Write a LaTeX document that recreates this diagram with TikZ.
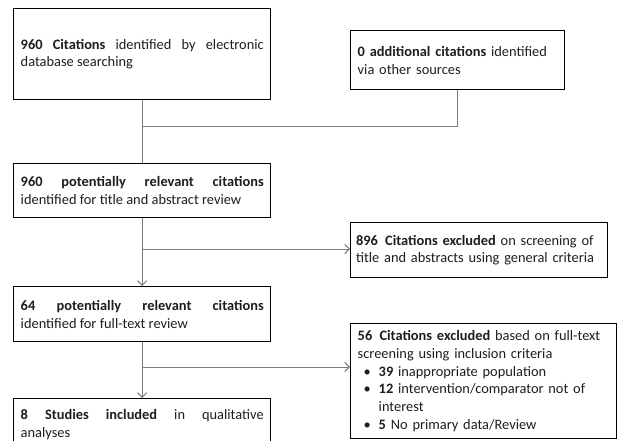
\documentclass[tikz,border=0pt]{standalone}
\usepackage{fontspec}
\setmainfont{Carlito}
\usetikzlibrary{arrows.meta}
\definecolor{txt}{HTML}{1E1E1E}
\definecolor{conn}{HTML}{7A7A7A}
\tikzset{
  box/.style={draw=black, line width=1.1pt, anchor=north west, inner xsep=5.25pt, inner ysep=2pt,
    font=\fontsize{10.8pt}{13.4pt}\selectfont, text=txt},
  jbox/.style={box, align=justify},
  lbox/.style={box, align=left},
  conline/.style={draw=conn, line width=0.7pt},
  conarrow/.style={conline, -{Straight Barb[length=3.5pt,width=7pt]}},
}
\begin{document}
\begin{tikzpicture}[x=0.75pt,y=-0.75pt]
\useasboundingbox (0,0) rectangle (617,441);
\clip (0,0) rectangle (617,441);
\fill[white] (0,0) rectangle (617,441);

\node[jbox, text width=182.25pt, minimum width=192.75pt, minimum height=68.25pt] (b1) at (13,8)
  {\textbf{960 Citations} identified by electronic\linebreak database searching};
\node[lbox, text width=150pt, minimum width=160.5pt, minimum height=44.25pt] (b2) at (350,30)
  {\textbf{0 additional citations} identified\\ via other sources};
\node[jbox, text width=182.25pt, minimum width=192.75pt, minimum height=40.5pt] (b3) at (13,163)
  {\textbf{960 potentially relevant citations}\linebreak identified for title and abstract review};
\node[lbox, inner xsep=4pt, text width=184.75pt, minimum width=192.75pt, minimum height=41.25pt] (b5) at (350,222)
  {\textbf{896\ \,Citations excluded} on screening of\\ title and abstracts using general criteria};
\node[jbox, text width=182.25pt, minimum width=192.75pt, minimum height=41.25pt] (b4) at (13,286)
  {\textbf{64 potentially relevant citations}\linebreak identified for full-text review};
\node[lbox, text width=189pt, minimum width=199.5pt, minimum height=86pt] (b7) at (350,323)
  {\textbf{56\ \,Citations excluded} based on full-text\\
   screening using inclusion criteria\\
   \makebox[15.75pt][l]{\hspace{4.5pt}•}\textbf{39} inappropriate population\\
   \makebox[15.75pt][l]{\hspace{4.5pt}•}\textbf{12} intervention/comparator not of\\
   \hspace*{15.75pt}interest\\
   \makebox[15.75pt][l]{\hspace{4.5pt}•}\textbf{5} No primary data/Review};
\node[jbox, text width=182.25pt, minimum width=192.75pt, minimum height=39pt] (b6) at (13,398)
  {\textbf{8 Studies included} in qualitative\linebreak analyses};

\coordinate (j1) at (b1.south |- 0,126);
\coordinate (j2) at (b3.south |- 0,249);
\coordinate (j3) at (b4.south |- 0,367);

\path[conline] (b1.south) -- (b3.north);
\path[conline] (b2.south) |- (j1);
\path[conarrow] (b3.south) -- (b4.north);
\path[conarrow] (j2) -- (j2 -| b5.west);
\path[conarrow] (b4.south) -- (b6.north);
\path[conarrow] (j3) -- (j3 -| b7.west);
\end{tikzpicture}
\end{document}
